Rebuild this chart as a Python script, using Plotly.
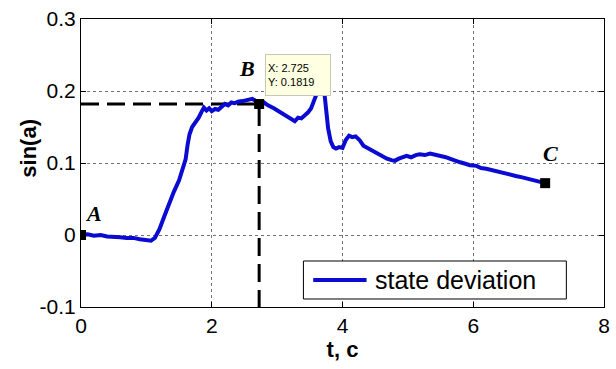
import plotly.graph_objects as go

# Measured trajectory: time (s) and sin(a)
t = [0.00, 0.10, 0.20, 0.30, 0.40, 0.50, 0.60, 0.70, 0.80, 0.90, 1.00, 1.07, 1.13,
     1.20, 1.27, 1.35, 1.42, 1.50, 1.56, 1.60, 1.63, 1.66, 1.70, 1.75, 1.80, 1.85,
     1.88, 1.92, 1.96, 2.00, 2.05, 2.10, 2.15, 2.20, 2.25, 2.30, 2.35, 2.40, 2.47,
     2.55, 2.62, 2.68, 2.725, 2.80, 2.86, 2.95, 3.02, 3.10, 3.17, 3.22, 3.27, 3.32,
     3.37, 3.42, 3.47, 3.52, 3.56, 3.60, 3.64, 3.68, 3.72, 3.75, 3.78, 3.82, 3.86,
     3.90, 3.95, 4.00, 4.05, 4.10, 4.15, 4.20, 4.26, 4.32, 4.38, 4.45, 4.53, 4.60,
     4.68, 4.75, 4.80, 4.86, 4.92, 4.98, 5.05, 5.12, 5.18, 5.26, 5.34, 5.44, 5.52,
     5.58, 5.64, 5.72, 5.80, 5.88, 5.95, 6.05, 6.12, 6.20, 6.28, 6.36, 6.45, 6.55,
     6.65, 6.75, 6.85, 6.95, 7.02, 7.10]
sin_a = [0.000, 0.001, -0.001, 0.000, -0.002, -0.002, -0.003, -0.004, -0.004, -0.006,
         -0.008, -0.008, -0.004, 0.008, 0.025, 0.045, 0.060, 0.076, 0.092, 0.105,
         0.125, 0.140, 0.150, 0.156, 0.163, 0.172, 0.177, 0.173, 0.176, 0.172, 0.175,
         0.174, 0.179, 0.182, 0.180, 0.184, 0.183, 0.185, 0.186, 0.188, 0.189, 0.186,
         0.1819, 0.184, 0.180, 0.176, 0.172, 0.167, 0.163, 0.160, 0.158, 0.163, 0.162,
         0.166, 0.170, 0.176, 0.184, 0.195, 0.205, 0.208, 0.200, 0.175, 0.148, 0.130,
         0.122, 0.120, 0.122, 0.121, 0.132, 0.138, 0.136, 0.137, 0.132, 0.124, 0.121,
         0.116, 0.112, 0.110, 0.106, 0.104, 0.103, 0.106, 0.108, 0.110, 0.108, 0.111,
         0.112, 0.111, 0.113, 0.111, 0.110, 0.108, 0.106, 0.103, 0.101, 0.099, 0.097,
         0.096, 0.093, 0.092, 0.090, 0.088, 0.086, 0.084, 0.082, 0.080, 0.078, 0.075,
         0.074, 0.072]

# Key points A, B, C
pt_names = ["A", "B", "C"]
pt_t = [0.0, 2.725, 7.10]
pt_y = [0.0, 0.1819, 0.072]

x_ticks = [0, 2, 4, 6, 8]
y_ticks = [-0.1, 0, 0.1, 0.2, 0.3]
y_tick_text = ["-0.1", "0", "0.1", "0.2", "0.3"]

series_name = "state deviation"
line_color = "#0a0ad2"

fig = go.Figure()

# Dashed guides to point B
b_t, b_y = pt_t[1], pt_y[1]
fig.add_trace(go.Scatter(x=[0, b_t, b_t], y=[b_y, b_y, y_ticks[0]], mode="lines",
                         line=dict(color="black", width=3, dash="18px,8px"),
                         showlegend=False, hoverinfo="skip"))

fig.add_trace(go.Scatter(x=t, y=sin_a, mode="lines", name=series_name,
                         line=dict(color=line_color, width=4), showlegend=False))

fig.add_trace(go.Scatter(x=pt_t, y=pt_y, mode="markers",
                         marker=dict(symbol="square", size=10, color="black"),
                         showlegend=False))

label_font = dict(family="Liberation Serif", size=22, color="black")
offsets = [(12, 22), (-12, 36), (5, 30)]
for name, px, py, (dx, dy) in zip(pt_names, pt_t, pt_y, offsets):
    fig.add_annotation(x=px, y=py, text=f"<b><i>{name}</i></b>", showarrow=False,
                       xshift=dx, yshift=dy, font=label_font)

# Data tip box for B
fig.add_annotation(x=2.82, y=0.251, xref="x", yref="y", xanchor="left", yanchor="top",
                   text=f"X: {b_t}<br>Y: {b_y}", showarrow=False, align="left",
                   font=dict(family="Liberation Sans", size=11, color="black"),
                   bgcolor="#ffffe1", bordercolor="#c8c8b4", borderwidth=1,
                   width=60, height=36, borderpad=2)

# Y axis title (slightly above the vertical centre)
fig.add_annotation(x=-0.102, xref="paper", y=0.552, yref="paper",
                   xanchor="center", yanchor="middle",
                   text="<b>sin(a)</b>", showarrow=False, textangle=-90,
                   font=dict(family="Liberation Sans", size=22, color="black"))

# Legend box, drawn in the lower right of the axes
fig.add_shape(type="rect", xref="paper", yref="paper", x0=0.4253, x1=0.928,
              y0=0.0278, y1=0.1597, line=dict(color="black", width=1),
              fillcolor="white", layer="above")
fig.add_shape(type="line", xref="paper", yref="paper", x0=0.444, x1=0.546,
              y0=0.094, y1=0.094, line=dict(color=line_color, width=4), layer="above")
fig.add_annotation(x=0.558, xref="paper", y=0.094, yref="paper", xanchor="left",
                   yanchor="middle", text=series_name, showarrow=False,
                   font=dict(family="Liberation Sans", size=25, color="black"))

axis_common = dict(showline=True, linecolor="black", linewidth=1, mirror="ticks",
                   ticks="inside", ticklen=5, tickcolor="black",
                   showgrid=True, gridcolor="rgba(0,0,0,0.55)", griddash="dot",
                   gridwidth=1, zeroline=False,
                   tickfont=dict(family="Liberation Sans", size=21, color="black"))

fig.update_layout(
    width=616, height=369,
    margin=dict(l=81, r=6, t=19, b=62),
    paper_bgcolor="white", plot_bgcolor="white",
    showlegend=False,
    xaxis=dict(range=[0, 8], tickvals=x_ticks,
               title=dict(text="<b>t, c</b>", standoff=4,
                          font=dict(family="Liberation Sans", size=22, color="black")),
               **axis_common),
    yaxis=dict(range=[-0.1, 0.3], tickvals=y_ticks, ticktext=y_tick_text, **axis_common),
)

fig.write_html("out.html")
